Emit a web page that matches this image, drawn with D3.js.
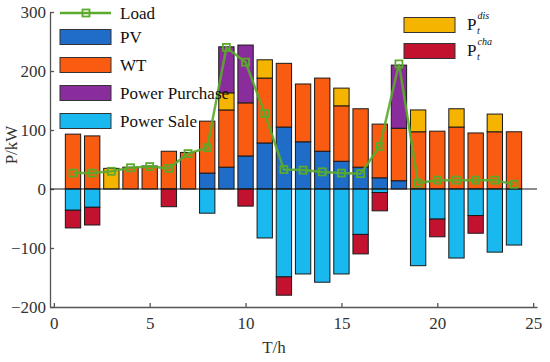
<!DOCTYPE html>
<html>
<head>
<meta charset="utf-8">
<script src="https://cdn.jsdelivr.net/npm/d3@7"></script>
<style>
  body { margin: 0; background: #fff; }
  svg text { font-family: "Liberation Serif", "DejaVu Serif", serif; }
</style>
</head>
<body>
<svg id="chart" width="550" height="362"></svg>
<script>
// hourly dispatch, kW
let hours = d3.range(1, 25);
let pv       = [0, 0, 0, 0, 0, 0, 0, 27, 37, 56, 78, 105, 80, 64, 47, 37, 19, 14, 0, 0, 0, 0, 0, 0];
let wt       = [93, 90, 0, 37, 39, 64, 62, 88, 97, 90, 110, 108, 98, 124, 94, 99, 91, 89, 97, 98, 105, 95, 97, 97];
let pdis     = [0, 0, 35, 0, 0, 0, 0, 0, 29, 0, 31, 0, 0, 0, 30, 0, 0, 0, 37, 0, 31, 0, 30, 0];
let purchase = [0, 0, 0, 0, 0, 0, 0, 0, 78, 98, 0, 0, 0, 0, 0, 0, 0, 107, 0, 0, 0, 0, 0, 0];
let sale     = [-36, -31, 0, 0, 0, 0, 0, -41, 0, 0, -83, -149, -144, -158, -144, -77, -6, 0, -130, -51, -117, -45, -107, -95];
let pcha     = [-30, -30, 0, 0, 0, -30, 0, 0, 0, -29, 0, -31, 0, 0, 0, -33, -31, 0, 0, -30, 0, -30, 0, 0];
let load     = [27, 27, 30, 36, 38, 35, 60, 70, 240, 215, 128, 33, 32, 29, 27, 26, 72, 212, 10, 15, 15, 15, 15, 8];

let xTicks = [0, 5, 10, 15, 20, 25];
let yTicks = [-200, -100, 0, 100, 200, 300];

let keys = ["pv", "wt", "pdis", "purchase", "sale", "pcha"];
let colors = {
    pv: "#1f6dc8",
    wt: "#f95b10",
    pdis: "#f5b400",
    purchase: "#8a2d9c",
    sale: "#19b8ee",
    pcha: "#c3122f"
};
let loadColor = "#5aab2b";
let serif = "'Liberation Serif', 'DejaVu Serif', serif";

let svg = d3.select("#chart");

let x = d3.scaleLinear().domain([-0.2, 25.2]).range([50, 537]);
let y = d3.scaleLinear().domain([-200, 300]).range([307, 12]);
let barW = x(0.8) - x(0);

// table for the stack
let rows = hours.map(function (h, i) {
    return {
        hour: h, pv: pv[i], wt: wt[i], pdis: pdis[i],
        purchase: purchase[i], sale: sale[i], pcha: pcha[i]
    };
});

let series = d3.stack()
    .keys(keys)
    .offset(d3.stackOffsetDiverging)(rows);

let bars = svg.append("g");
series.forEach(function (s) {
    bars.selectAll(null)
        .data(s.filter(function (d) { return d[1] - d[0] !== 0; }))
        .enter().append("rect")
        .attr("x", function (d) { return x(d.data.hour) - barW / 2; })
        .attr("y", function (d) { return y(Math.max(d[0], d[1])); })
        .attr("width", barW)
        .attr("height", function (d) { return Math.abs(y(d[0]) - y(d[1])); })
        .attr("fill", colors[s.key])
        .attr("stroke", "#1a1a1a")
        .attr("stroke-width", 1);
});

// axes
let axisColor = "#555";
let xAxis = svg.append("g")
    .attr("transform", "translate(0," + y(-200) + ")")
    .call(d3.axisBottom(x).tickValues(xTicks).tickSizeInner(-4).tickSizeOuter(0).tickPadding(10));
let yAxis = svg.append("g")
    .attr("transform", "translate(" + x(-0.2) + ",0)")
    .call(d3.axisLeft(y).tickValues(yTicks).tickSizeInner(-4).tickSizeOuter(0).tickPadding(4));
[xAxis, yAxis].forEach(function (a) {
    a.attr("font-family", serif).attr("font-size", 17);
    a.selectAll("path, line").attr("stroke", axisColor).attr("stroke-width", 1.3);
    a.selectAll("text").attr("fill", "#333");
});

// zero line
svg.append("line")
    .attr("x1", x(-0.2)).attr("x2", x(25.2))
    .attr("y1", y(0)).attr("y2", y(0))
    .attr("stroke", "#1a1a1a").attr("stroke-width", 1.2);

// load line
let line = d3.line()
    .x(function (d, i) { return x(hours[i]); })
    .y(function (d) { return y(d); });
svg.append("path")
    .datum(load)
    .attr("d", line)
    .attr("fill", "none")
    .attr("stroke", loadColor)
    .attr("stroke-width", 2.5)
    .attr("opacity", 0.9);
svg.append("g").selectAll("rect")
    .data(load)
    .enter().append("rect")
    .attr("x", function (d, i) { return x(hours[i]) - 3.5; })
    .attr("y", function (d) { return y(d) - 3.5; })
    .attr("width", 7).attr("height", 7)
    .attr("fill", "none")
    .attr("stroke", loadColor)
    .attr("stroke-width", 1.8);

// axis titles
svg.append("text")
    .attr("transform", "translate(17," + 145 + ") rotate(-90)")
    .attr("text-anchor", "middle")
    .style("font-size", "17px")
    .attr("fill", "#333")
    .text("P/kW");
svg.append("text")
    .attr("x", 274).attr("y", 353)
    .attr("text-anchor", "middle")
    .style("font-size", "17px")
    .attr("fill", "#333")
    .text("T/h");

// left legend
let legendLeft = [
    {label: "PV", key: "pv"},
    {label: "WT", key: "wt"},
    {label: "Power Purchase", key: "purchase"},
    {label: "Power Sale", key: "sale"}
];
let lg = svg.append("g");
lg.append("line")
    .attr("x1", 60).attr("x2", 111).attr("y1", 13).attr("y2", 13)
    .attr("stroke", loadColor).attr("stroke-width", 2.5);
lg.append("rect")
    .attr("x", 82.5).attr("y", 9.5).attr("width", 7).attr("height", 7)
    .attr("fill", "none").attr("stroke", loadColor).attr("stroke-width", 1.8);
lg.append("text")
    .attr("x", 120).attr("y", 18.5)
    .style("font-size", "17px").attr("fill", "#111")
    .text("Load");
legendLeft.forEach(function (d, i) {
    let cy = 37 + i * 28;
    lg.append("rect")
        .attr("x", 60).attr("y", cy - 7.5).attr("width", 51).attr("height", 15)
        .attr("fill", colors[d.key]).attr("stroke", "#333").attr("stroke-width", 1);
    lg.append("text")
        .attr("x", 120).attr("y", cy + 5.5)
        .style("font-size", "17px").attr("fill", "#111")
        .text(d.label);
});

// right legend
let legendRight = [
    {sup: "dis", key: "pdis"},
    {sup: "cha", key: "pcha"}
];
legendRight.forEach(function (d, i) {
    let cy = 25 + i * 26;
    lg.append("rect")
        .attr("x", 404).attr("y", cy - 7.5).attr("width", 51).attr("height", 15)
        .attr("fill", colors[d.key]).attr("stroke", "#333").attr("stroke-width", 1);
    let t = lg.append("text")
        .attr("x", 467).attr("y", cy + 5)
        .style("font-size", "17px").attr("fill", "#111");
    t.append("tspan").text("P");
    t.append("tspan").attr("dx", 1).attr("dy", -11)
        .style("font-size", "10px").style("font-style", "italic").text(d.sup);
    lg.append("text")
        .attr("x", 477).attr("y", cy + 9)
        .style("font-size", "10px").style("font-style", "italic").attr("fill", "#111")
        .text("t");
});
</script>
</body>
</html>
